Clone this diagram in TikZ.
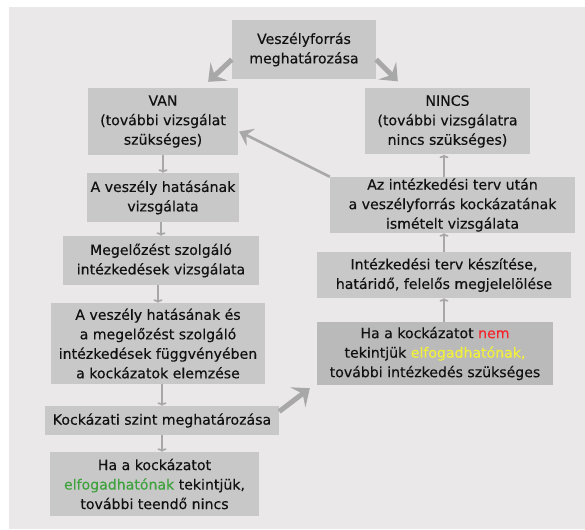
\documentclass[tikz,border=0pt]{standalone}
\usepackage{fontspec}
\setmainfont{DejaVu Sans}[FakeBold=0.3]
\usetikzlibrary{arrows.meta,calc}
\definecolor{panelgray}{HTML}{EAE8E9}
\definecolor{boxgray}{HTML}{C8C8C8}
\definecolor{darkbox}{HTML}{BABABA}
\definecolor{arrowgray}{HTML}{A8A8A8}
\definecolor{textdark}{HTML}{111111}
\definecolor{nemred}{HTML}{F5242A}
\definecolor{okyellow}{HTML}{F2F03A}
\definecolor{okgreen}{HTML}{3EA33E}

\begin{document}
\begin{tikzpicture}[x=1pt,y=-1pt,
  box/.style={fill=boxgray, inner sep=0pt, align=center, text=textdark,
    font=\fontsize{14.1}{19.5}\selectfont},
  flow/.style={draw=arrowgray, line width=1.7pt, -{To[length=3.5pt,width=9pt]}},
  bigflow/.style={draw=arrowgray, line width=5pt, -{Stealth[length=15pt,width=25pt,inset=6pt]}},
  backflow/.style={draw=arrowgray, line width=2.6pt, -{Stealth[length=13pt,width=19pt,inset=5pt]}}]
\useasboundingbox (0,0) rectangle (585,529);
\fill[white] (0,0) rectangle (585,529);
\fill[panelgray] (9,7) rectangle (585,529);

% left column
\node[box, minimum width=144pt, minimum height=59pt] (src) at (304,49.5) {Veszélyforrás\\meghatározása};
\node[box, minimum width=150pt, minimum height=67pt] (van) at (163,121.5) {VAN\\(további vizsgálat\\szükséges)};
\node[box, minimum width=165pt, minimum height=66pt] (nincs) at (447.5,121.5) {NINCS\\(további vizsgálatra\\nincs szükséges)};
\node[box, minimum width=152pt, minimum height=49pt] (hatas) at (163,197.5) {A veszély hatásának\\vizsgálata};
\node[box, minimum width=196pt, minimum height=49pt] (megelozes) at (161,260.5) {Megelőzést szolgáló\\intézkedések vizsgálata};
\node[box, minimum width=214pt, minimum height=81pt] (elemzes) at (158,343.5) {A veszély hatásának és\\a megelőzést szolgáló\\intézkedések függvényében\\a kockázatok elemzése};
\node[box, minimum width=234pt, minimum height=29pt] (szint) at (162,420.5) {Kockázati szint meghatározása};
\node[box, minimum width=209pt, minimum height=64pt] (elfogad) at (154.5,484) {Ha a kockázatot\\\textcolor{okgreen}{elfogadhatónak} tekintjük,\\további teendő nincs};

% right column
\node[box, minimum width=245pt, minimum height=56pt] (ujra) at (452.5,205) {Az intézkedési terv után\\a veszélyforrás kockázatának\\ismételt vizsgálata};
\node[box, minimum width=254pt, minimum height=46pt] (terv) at (444,275) {Intézkedési terv készítése,\\határidő, felelős megjelelölése};
\node[box, fill=darkbox, minimum width=236pt, minimum height=63pt] (nem) at (435,353.5) {Ha a kockázatot \textcolor{nemred}{nem}\\tekintjük \textcolor{okyellow}{elfogadhatónak,}\\további intézkedés szükséges};

% connectors
\draw[bigflow] ($(src.west)+(0,10)$) -- ($(van.north east)+(-30,-6)$);
\draw[bigflow] ($(src.east)+(0,10)$) -- ($(nincs.north west)+(33,-7)$);
\draw[flow] (van.south -| hatas) -- (hatas.north);
\draw[flow] (hatas.south -| megelozes) -- (megelozes.north);
\draw[flow] (megelozes.south -| elemzes) -- (elemzes.north);
\draw[flow] (elemzes.south -| szint) -- (szint.north);
\draw[flow] (szint.south) -- (szint.south |- elfogad.north);
\draw[bigflow] ($(szint.east)+(0,-9)$) -- ($(nem.south west)+(-7,3)$);
\draw[flow] (nem.north -| terv) -- (terv.south);
\draw[flow] (terv.north) -- (terv.north |- ujra.south);
\draw[flow] (ujra.north -| terv.north) -- (nincs.south -| terv.north);
\draw[backflow] (ujra.north west) -- ($(van.east)+(1,10)$);
\end{tikzpicture}
\end{document}
